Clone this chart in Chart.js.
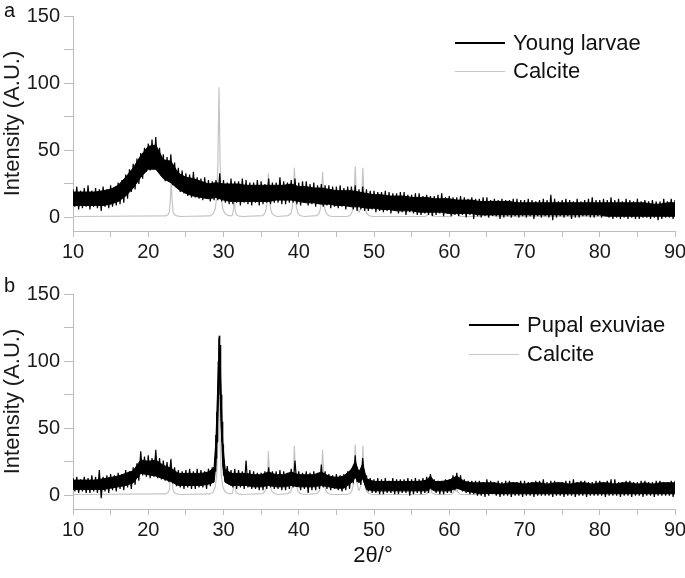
<!DOCTYPE html>
<html><head><meta charset="utf-8">
<script src="https://cdn.jsdelivr.net/npm/chart.js@4.4.1/dist/chart.umd.min.js"></script>
<style>
html,body{margin:0;padding:0;background:#fff}
body{width:685px;height:578px;overflow:hidden;position:relative;font-family:"Liberation Sans",Arial,sans-serif;color:#111}
canvas{position:absolute;left:0}
#ca{top:0}
#cb{top:278px}
.pl{position:absolute;font-size:20px;line-height:24px}
.leg{position:absolute;height:28px;line-height:28px;font-size:22px;white-space:nowrap}
.leg i{position:absolute;left:0;width:50px}
.leg span{position:absolute;left:58px;top:0}
.xt{position:absolute;left:273px;width:200px;text-align:center;font-size:22px;line-height:28px}
</style>
</head><body>
<canvas id="ca" width="685" height="262"></canvas>
<canvas id="cb" width="685" height="300"></canvas>
<div class="pl" style="left:4px;top:-2px">a</div>
<div class="pl" style="left:4px;top:273px">b</div>
<div class="leg" style="left:455px;top:29px"><i style="top:13px;height:2px;background:#000"></i><span>Young larvae</span></div>
<div class="leg" style="left:455px;top:57px"><i style="top:14px;height:1px;background:#c8c8c8"></i><span>Calcite</span></div>
<div class="leg" style="left:469px;top:311px"><i style="top:13px;height:2px;background:#000"></i><span>Pupal exuviae</span></div>
<div class="leg" style="left:469px;top:340px"><i style="top:14px;height:1px;background:#c8c8c8"></i><span>Calcite</span></div>
<div class="xt" style="top:541px">2θ/°</div>
<script>
// ================= Panel a: Young larvae =================
// noisy trace (0.25 deg steps)
const aTheta = [
10,10.25,10.5,10.75, 11,11.25,11.5,11.75, 12,12.25,12.5,12.75, 13,13.25,13.5,13.75, 14,14.25,14.5,14.75,
15,15.25,15.5,15.75, 16,16.25,16.5,16.75, 17,17.25,17.5,17.75, 18,18.25,18.5,18.75, 19,19.25,19.5,19.75,
20,20.25,20.5,20.75, 21,21.25,21.5,21.75, 22,22.25,22.5,22.75, 23,23.25,23.5,23.75, 24,24.25,24.5,24.75,
25,25.25,25.5,25.75, 26,26.25,26.5,26.75, 27,27.25,27.5,27.75, 28,28.25,28.5,28.75, 29,29.25,29.5,29.75,
30,30.25,30.5,30.75, 31,31.25,31.5,31.75, 32,32.25,32.5,32.75, 33,33.25,33.5,33.75, 34,34.25,34.5,34.75,
35,35.25,35.5,35.75, 36,36.25,36.5,36.75, 37,37.25,37.5,37.75, 38,38.25,38.5,38.75, 39,39.25,39.5,39.75,
40,40.25,40.5,40.75, 41,41.25,41.5,41.75, 42,42.25,42.5,42.75, 43,43.25,43.5,43.75, 44,44.25,44.5,44.75,
45,45.25,45.5,45.75, 46,46.25,46.5,46.75, 47,47.25,47.5,47.75, 48,48.25,48.5,48.75, 49,49.25,49.5,49.75,
50,50.25,50.5,50.75, 51,51.25,51.5,51.75, 52,52.25,52.5,52.75, 53,53.25,53.5,53.75, 54,54.25,54.5,54.75,
55,55.25,55.5,55.75, 56,56.25,56.5,56.75, 57,57.25,57.5,57.75, 58,58.25,58.5,58.75, 59,59.25,59.5,59.75,
60,60.25,60.5,60.75, 61,61.25,61.5,61.75, 62,62.25,62.5,62.75, 63,63.25,63.5,63.75, 64,64.25,64.5,64.75,
65,65.25,65.5,65.75, 66,66.25,66.5,66.75, 67,67.25,67.5,67.75, 68,68.25,68.5,68.75, 69,69.25,69.5,69.75,
70,70.25,70.5,70.75, 71,71.25,71.5,71.75, 72,72.25,72.5,72.75, 73,73.25,73.5,73.75, 74,74.25,74.5,74.75,
75,75.25,75.5,75.75, 76,76.25,76.5,76.75, 77,77.25,77.5,77.75, 78,78.25,78.5,78.75, 79,79.25,79.5,79.75,
80,80.25,80.5,80.75, 81,81.25,81.5,81.75, 82,82.25,82.5,82.75, 83,83.25,83.5,83.75, 84,84.25,84.5,84.75,
85,85.25,85.5,85.75, 86,86.25,86.5,86.75, 87,87.25,87.5,87.75, 88,88.25,88.5,88.75, 89,89.25,89.5,89.75,
90];
const aIntensity = [
21,8,23,6, 20,7,22,8, 24,6,20,8, 22,7,21,5, 23,8,21,7,
24,8,22,9, 26,10,28,11, 32,14,36,19, 40,21,44,25, 48,29,52,34,
55,35,58,37, 60,35,52,31, 47,27,45,27, 47,24,41,22, 37,19,35,18,
33,16,32,15, 34,15,30,14, 29,13,30,14, 28,12,27,13, 28,13,33,12,
28,11,26,10, 29,10,27,11, 27,9,29,11, 28,10,26,9, 26,11,28,9,
27,10,25,11, 29,10,26,11, 26,11,30,10, 27,10,26,11, 28,11,29,10,
26,9,27,11, 27,9,25,10, 26,8,24,10, 25,8,24,9, 24,7,23,8,
23,7,24,8, 22,6,23,8, 23,6,24,5, 21,6,23,5, 21,5,20,6,
20,4,19,5, 19,4,20,5, 19,3,18,5, 18,3,19,4, 19,2,17,4,
17,3,18,2, 18,2,16,3, 17,2,16,1, 16,2,17,3, 18,1,15,3,
16,1,15,2, 15,1,16,2, 15,0,14,2, 15,-1,14,1, 14,0,15,1,
15,0,13,1, 14,1,13,-1, 14,0,13,1, 13,0,14,1, 14,0,13,1,
13,0,14,1, 13,-1,12,1, 13,0,14,1, 13,0,17,-2, 14,0,12,1,
13,0,14,1, 13,-1,12,0, 14,0,12,1, 13,1,14,0, 15,0,13,1,
13,0,14,1, 13,0,15,-1, 13,0,14,-1, 12,0,14,-1, 13,0,12,-1,
14,-1,12,0, 13,0,12,-1, 13,0,12,-2, 12,-1,14,0, 12,0,14,-1,
13];
// dense core of the noise band (1 deg steps)
const aCoreTheta = [
10,11,12,13,14,15,16,17,18,19, 20,21,22,23,24,25,26,27,28,29,
30,31,32,33,34,35,36,37,38,39, 40,41,42,43,44,45,46,47,48,49,
50,51,52,53,54,55,56,57,58,59, 60,61,62,63,64,65,66,67,68,69,
70,71,72,73,74,75,76,77,78,79, 80,81,82,83,84,85,86,87,88,89, 90];
const aCoreUpper = [
19,19,19,19,20,21,24,30,37,46, 53,54,43,42,33,30,29,27,25,26,
25,25,25,24,24,24,24,24,24,25, 23,23,22,22,21,20,20,20,19,18,
17,17,16,16,16,15,15,15,14,14, 14,13,13,13,12,12,12,12,12,11,
11,11,11,11,11,11,11,11,11,11, 11,11,11,11,11,11,11,10,10,11, 11];
const aCoreLower = [
9,9,9,9,9,10,12,16,22,30, 36,36,29,26,21,18,16,15,14,15,
13,12,12,12,12,12,12,13,13,13, 12,11,11,10,10,9,9,8,8,7,
7,6,6,5,5,5,4,4,4,4, 3,3,3,3,2,2,2,2,2,2,
2,2,2,2,2,2,2,2,2,2, 2,1,1,1,1,1,1,1,1,1, 1];

// ================= Panel b: Pupal exuviae =================
const bTheta = [
10,10.25,10.5,10.75, 11,11.25,11.5,11.75, 12,12.25,12.5,12.75, 13,13.25,13.5,13.75, 14,14.25,14.5,14.75,
15,15.25,15.5,15.75, 16,16.25,16.5,16.75, 17,17.25,17.5,17.75, 18,18.25,18.5,18.75, 19,19.25,19.5,19.75,
20,20.25,20.5,20.75, 21,21.25,21.5,21.75, 22,22.25,22.5,22.75, 23,23.25,23.5,23.75, 24,24.25,24.5,24.75,
25,25.25,25.5,25.75, 26,26.25,26.5,26.75, 27,27.25,27.5,27.75, 28,28.25,28.5,28.75,
28.9,28.95,29,29.05,29.1,29.15,29.2,29.25,29.3,29.35,29.4,29.45,29.5,29.55,29.6,29.65,29.7,29.75,29.8,29.85,29.9,29.95,
30,30.1,30.25,30.5,30.75,
31,31.25,31.5,31.75, 32,32.25,32.5,32.75, 33,33.25,33.5,33.75, 34,34.25,34.5,34.75,
35,35.25,35.5,35.75, 36,36.25,36.5,36.75, 37,37.25,37.5,37.75, 38,38.25,38.5,38.75, 39,39.25,39.5,39.75,
40,40.25,40.5,40.75, 41,41.25,41.5,41.75, 42,42.25,42.5,42.75, 43,43.25,43.5,43.75, 44,44.25,44.5,44.75,
45,45.25,45.5,45.75, 46,46.25,46.5,46.75, 47,47.25,47.5,47.75, 48,48.25,48.5,48.75, 49,49.25,49.5,49.75,
50,50.25,50.5,50.75, 51,51.25,51.5,51.75, 52,52.25,52.5,52.75, 53,53.25,53.5,53.75, 54,54.25,54.5,54.75,
55,55.25,55.5,55.75, 56,56.25,56.5,56.75, 57,57.25,57.5,57.75, 58,58.25,58.5,58.75, 59,59.25,59.5,59.75,
60,60.25,60.5,60.75, 61,61.25,61.5,61.75, 62,62.25,62.5,62.75, 63,63.25,63.5,63.75, 64,64.25,64.5,64.75,
65,65.25,65.5,65.75, 66,66.25,66.5,66.75, 67,67.25,67.5,67.75, 68,68.25,68.5,68.75, 69,69.25,69.5,69.75,
70,70.25,70.5,70.75, 71,71.25,71.5,71.75, 72,72.25,72.5,72.75, 73,73.25,73.5,73.75, 74,74.25,74.5,74.75,
75,75.25,75.5,75.75, 76,76.25,76.5,76.75, 77,77.25,77.5,77.75, 78,78.25,78.5,78.75, 79,79.25,79.5,79.75,
80,80.25,80.5,80.75, 81,81.25,81.5,81.75, 82,82.25,82.5,82.75, 83,83.25,83.5,83.75, 84,84.25,84.5,84.75,
85,85.25,85.5,85.75, 86,86.25,86.5,86.75, 87,87.25,87.5,87.75, 88,88.25,88.5,88.75, 89,89.25,89.5,89.75,
90];
const bIntensity = [
13,3,14,2, 12,3,14,2, 13,2,15,3, 14,2,19,-2, 14,3,15,2,
16,4,15,3, 17,5,16,4, 19,6,18,5, 21,8,24,11, 33,15,29,14,
30,13,28,14, 34,13,28,12, 26,11,25,10, 27,9,21,7, 19,6,18,5,
19,6,20,5, 18,5,20,6, 19,6,18,5, 20,7,21,14,
28,18,45,28,62,40,80,55,100,75,116,119,100,112,80,95,58,75,40,55,25,38,
15,26,10,22,8,
19,6,20,5, 19,6,18,5, 26,6,19,5, 18,5,17,4,
17,4,18,5, 21,6,18,5, 18,5,19,4, 18,4,17,5, 20,6,26,8,
18,4,17,5, 18,2,17,4, 18,4,17,5, 23,6,18,5, 16,4,15,5,
16,4,15,3, 16,4,18,5, 20,9,30,10, 19,8,28,10, 15,3,13,2,
12,2,13,1, 12,1,13,2, 11,2,13,1, 12,1,12,2, 12,2,13,0,
12,1,13,2, 12,1,13,2, 14,2,16,4, 12,2,11,1, 11,1,12,2,
12,2,15,4, 17,5,15,3, 12,2,11,1, 11,1,11,0, 11,0,10,-1,
12,0,11,1, 10,0,11,-1, 10,0,11,0, 11,-1,10,0, 10,0,11,-1,
11,0,10,0, 10,-1,11,0, 11,0,12,0, 10,0,11,-1, 11,0,10,0,
10,-1,11,0, 11,0,12,-1, 10,0,11,0, 11,-1,10,0, 10,0,11,0,
11,0,10,-1, 11,0,12,0, 12,0,10,-1, 10,0,11,0, 11,-1,10,0,
10,0,11,-1, 11,0,10,0, 10,-1,11,0, 11,0,10,0, 10,0,11,-1,
11];
const bCoreTheta = [
10,11,12,13,14,15,16,17,18,19, 20,21,22,23,24,25,26,27,28,
28.75,29,29.2,29.45,29.7,29.9,30.2,
31,32,33,34,35,36,37,38,39, 40,41,42,43,44,45,46,
47,47.5,48,48.5, 49,50,51,52,53,54,55,56, 57,57.5,58,59,60,61,62,63,
64,65,66,67,68,69,70,71,72,73,74,75,76,77,78,79,80,81,82,83,84,85,86,87,88,89,90];
const bCoreUpper = [
11.5,11.5,11.5,11.5,12.5,13.5,14.5,16.5,18.5,26.5, 25.5,26.5,22.5,20.5,16.5,16.5,16.5,16.5,17.5,
21,42,76,114,72,40,20,
16.5,16.5,16.5,15.5,15.5,17.5,15.5,15.5,17.5, 15.5,15.5,15.5,17.5,14.5,13.5,14.5,
19.5,25.5,17.5,23.5, 12.5,10.5,10.5,10.5,10.5,10.5,10.5,10.5, 11.5,14.5,10.5,10.5,11.5,14.5,10.5,9.5,
9.5,9.5,9.5,8.5,9.5,9.5,8.5,9.5,9.5,8.5,9.5,9.5,8.5,9.5,9.5,8.5,9.5,9.5,8.5,9.5,9.5,8.5,9.5,8.5,9.5,9.5,9.5];
const bCoreLower = [
4.5,4.5,4.5,4.5,4.5,5.5,6.5,7.5,9.5,16.5, 15.5,14.5,12.5,10.5,7.5,7.5,7.5,7.5,8.5,
10,24,52,92,50,22,10,
7.5,7.5,7.5,6.5,6.5,7.5,6.5,6.5,7.5, 6.5,6.5,6.5,7.5,6.5,5.5,5.5,
9.5,13.5,9.5,12.5, 4.5,3.5,3.5,3.5,3.5,3.5,3.5,3.5, 3.5,5.5,3.5,3.5,3.5,5.5,3.5,2.5,
1.5,1.5,1.5,1.5,1.5,1.5,1.5,1.5,1.5,1.5,1.5,1.5,1.5,1.5,1.5,1.5,1.5,1.5,1.5,1.5,1.5,1.5,1.5,1.5,1.5,1.5,1.5];

// ================= Calcite reference pattern (same in both panels) =================
const calcTheta = [
10,
22.3,22.6,22.8,22.93,23.05,23.17,23.3,23.5,23.8,24.3,
28.2,28.6,28.9,29.1,29.25,29.4,29.55,29.7,29.9,30.2,30.6,31.0,
31.2,31.32,31.43,31.54,31.7,32.1,32.6,
35.2,35.5,35.7,35.85,35.97,36.09,36.24,36.45,36.75,37.2,
38.6,38.95,39.15,39.3,39.42,39.54,39.69,39.9,40.2,40.7,
42.4,42.7,42.9,43.05,43.17,43.29,43.44,43.65,43.95,44.4,
46.4,46.8,47.05,47.24,47.39,47.51,47.63,47.78,47.95,48.05,48.25,48.4,48.52,48.64,48.79,49.0,49.3,49.8,
56.8,57.15,57.33,57.43,57.53,57.7,58.1,
60.3,60.55,60.68,60.8,60.9,61.0,61.15,61.5,
64.3,64.55,64.67,64.8,65.1,65.45,65.6,65.75,66.1,
90];
const calcInt = [
0.8,
1.2,2,4,13,28,13,4,2,1.2,0.8,
1.2,2.5,6.5,15,40,97,40,15,6.5,3,1.6,1.2,
2,6,18,6,2,1,0.8,
1.5,3,7,17,33,17,7,3,1.5,0.8,
1.5,3,7.5,19,37,19,7.5,3,1.5,0.8,
1.5,3,7,18,34,18,7,3,1.5,0.8,
0.8,1.5,3.5,8,20,38,20,8,4,4,8,19,37,19,8,3.5,1.5,0.8,
0.8,2,5,10,5,2,0.8,
0.8,2.5,8,3.5,3.5,7,2.5,0.8,
0.8,2.5,7,2.5,1,2,5,2,0.8,
0.8];

// ticks
const xTickValues = [10,15,20,25,30,35,40,45,50,55,60,65,70,75,80,85,90];
const xLabelled = [10,20,30,40,50,60,70,80,90];
const yTickValues = [0,25,50,75,100,125,150];
const yLabelled = [0,50,100,150];

Chart.defaults.font.family = '"Liberation Sans", Arial, sans-serif';
const AX = '#bdbdbd';
const TXT = '#1a1a1a';

function pts(xs, ys){ const n = Math.min(xs.length, ys.length); const r=[]; for(let i=0;i<n;i++) r.push({x:xs[i], y:ys[i]}); return r; }

function makeChart(id, theta, inten, cTheta, cUp, cLo){
  const el = document.getElementById(id);
  const H = el.height;
  return new Chart(el, {
    type:'line',
    data:{datasets:[
      {data:pts(theta, inten), borderColor:'#000', borderWidth:1.2, pointRadius:0, fill:false, tension:0, borderJoinStyle:'bevel'},
      {data:pts(cTheta, cUp), borderColor:'#000', borderWidth:1, pointRadius:0, fill:false, tension:0},
      {data:pts(cTheta, cLo), borderColor:'#000', borderWidth:1, pointRadius:0, fill:'-1', backgroundColor:'#000', tension:0},
      {data:pts(calcTheta, calcInt), borderColor:'#c4c4c4', borderWidth:1.2, pointRadius:0, fill:false, tension:0}
    ]},
    options:{
      responsive:false, animation:false, devicePixelRatio:1,
      layout:{padding:{top:16,right:10,left:0,bottom:0}},
      plugins:{legend:{display:false}, tooltip:{enabled:false}},
      scales:{
        x:{type:'linear', min:10, max:90,
          afterFit:s=>{ s.height = H - 231; s.paddingLeft = 0; s.paddingRight = 0; },
          afterBuildTicks:s=>{ s.ticks = xTickValues.map(v=>({value:v})); },
          ticks:{autoSkip:false, maxRotation:0, padding:3, color:TXT, font:{size:20},
            callback:v=> xLabelled.includes(v) ? String(v) : ''},
          grid:{drawOnChartArea:false, drawTicks:true, tickLength:6, color:AX, lineWidth:1},
          border:{color:AX, width:1}},
        y:{type:'linear', min:-10, max:150,
          afterFit:s=>{ s.width = 73; s.paddingTop = 0; s.paddingBottom = 0; },
          afterBuildTicks:s=>{ s.ticks = yTickValues.map(v=>({value:v})); },
          ticks:{autoSkip:false, padding:4, color:TXT, font:{size:20},
            callback:v=> yLabelled.includes(v) ? String(v) : ''},
          title:{display:true, text:'Intensity (A.U.)', color:TXT, font:{size:22}, padding:{top:0,bottom:0}},
          grid:{drawOnChartArea:false, drawTicks:true, tickLength:9, color:AX, lineWidth:1},
          border:{color:AX, width:1}}
      }
    }
  });
}
makeChart('ca', aTheta, aIntensity, aCoreTheta, aCoreUpper, aCoreLower);
makeChart('cb', bTheta, bIntensity, bCoreTheta, bCoreUpper, bCoreLower);
</script>
</body></html>
